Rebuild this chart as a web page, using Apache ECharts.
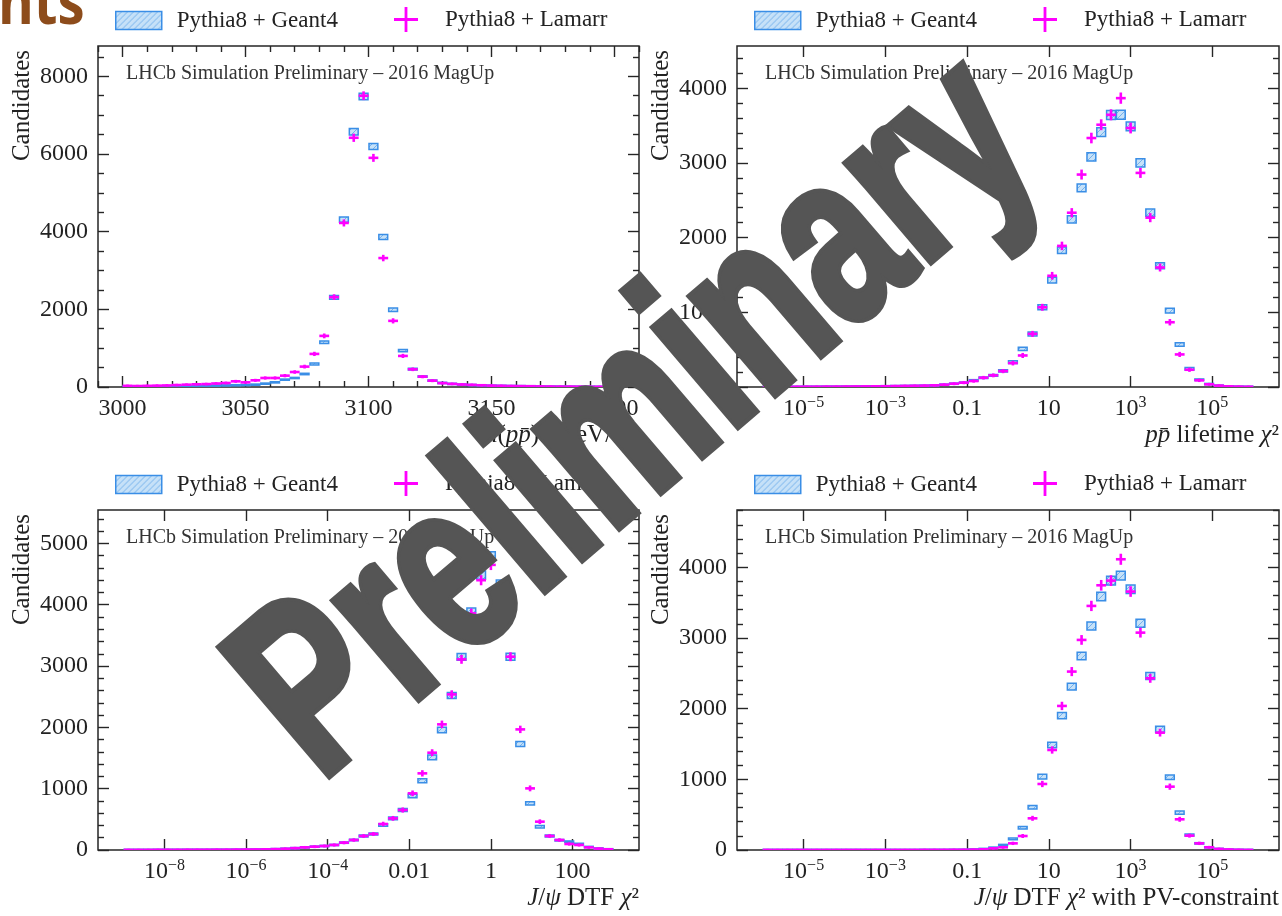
<!DOCTYPE html>
<html><head><meta charset="utf-8">
<script src="https://cdn.jsdelivr.net/npm/echarts@6/dist/echarts.min.js"></script>
<style>html,body{margin:0;padding:0;background:#fff}#c{width:1282px;height:916px}</style>
</head><body><div id="c"></div>
<script>
// ---------------- data (counts per bin, 50 equal bins per histogram) ----------------
const massBinRange = [3000, 3200];            // m(p pbar) [MeV/c^2]
const massGeant4 = [12,12,14,16,18,20,24,28,32,36, 40,45,50,60,86,120,189,232,335,594,
  1153,2310,4310,6572,7480,6194,3862,1987,938,460, 270,165,105,80,62,50,42,35,30,25,
  22,18,15,12,10,9,8,6,5,4];
const massLamarr = [30,25,30,35,40,50,60,70,75,90, 103,146,120,172,232,232,292,386,525,852,
  1316,2314,4224,6417,7500,5900,3320,1703,800,456, 267,163,100,80,65,55,45,35,30,25,
  22,20,15,12,10,10,8,6,5,5];

const lifetimeLog10Range = [-6, 6];           // log10(p pbar lifetime chi2)
const lifetimeGeant4 = [2,2,3,3,4,4,5,5,6,7, 8,9,10,12,14,16,18,22,31,44,
  58,89,124,156,215,333,511,711,1067,1431, 1831,2244,2666,3080,3413,3640,3644,3490,3000,2333,
  1622,1022,569,244,98,40,18,9,5,3];
const lifetimeLamarr = [2,2,3,3,4,4,5,5,6,7, 8,9,10,12,14,16,18,22,31,44,
  58,80,124,156,213,320,422,711,1067,1489, 1889,2333,2844,3333,3511,3644,3867,3467,2866,2267,
  1600,867,436,231,89,36,18,9,5,3];

const dtfLog10Range = [-9, 3];                // log10(J/psi DTF chi2)
const dtfGeant4 = [2,2,2,3,3,3,4,4,4,5, 5,6,7,8,10,14,20,30,43,54,
  65,82,120,163,228,261,408,516,652,880, 1130,1511,1957,2520,3150,3886,4484,4794,4337,3152,
  1728,761,380,228,160,136,100,50,25,12];
const dtfLamarr = [2,2,2,3,3,3,4,4,4,5, 5,6,7,8,10,14,20,30,43,54,
  65,82,120,163,228,261,424,516,652,924, 1250,1587,2049,2538,3109,3859,4400,4650,4185,3152,
  1967,1005,462,228,163,98,82,43,22,11];

const dtfPVLog10Range = [-6, 6];              // log10(J/psi DTF chi2 with PV constraint)
const dtfPVGeant4 = [1,1,1,1,1,1,1,1,1,1, 1,1,1,1,1,1,2,2,2,3,
  4,8,15,33,71,156,316,604,1038,1486, 1901,2311,2745,3170,3585,3811,3882,3689,3208,2462,
  1708,1028,528,212,94,38,15,7,3,1];
const dtfPVLamarr = [1,1,1,1,1,1,1,1,1,1, 1,1,1,1,1,1,2,2,2,3,
  3,5,10,24,38,94,198,448,934,1415, 2038,2524,2972,3453,3745,3811,4113,3656,3075,2429,
  1660,896,434,203,94,38,15,7,3,1];

// ---------------- ticks ----------------
const massTickValues = [3000, 3050, 3100, 3150, 3200];
const massTickLabels = ['3000', '3050', '3100', '3150', '3200'];
const wideLogTickValues = [-5, -3, -1, 1, 3, 5];
const wideLogTickLabels = ['10^-5', '10^-3', '0.1', '10', '10^3', '10^5'];
const dtfLogTickValues = [-8, -6, -4, -2, 0, 2];
const dtfLogTickLabels = ['10^-8', '10^-6', '10^-4', '0.01', '1', '100'];
const massYTicks = [0, 2000, 4000, 6000, 8000];
const lifetimeYTicks = [0, 1000, 2000, 3000, 4000];
const dtfYTicks = [0, 1000, 2000, 3000, 4000, 5000];
const dtfPVYTicks = [0, 1000, 2000, 3000, 4000];

const NAME_G4 = 'Pythia8 + Geant4';
const NAME_LM = 'Pythia8 + Lamarr';
const CAPTION = 'LHCb Simulation Preliminary \u2013 2016 MagUp';
const YNAME = 'Candidates';

// ---------------- styling ----------------
const FONT = '"Liberation Serif", "Times New Roman", "DejaVu Serif", serif';
const TXT = '#222';
const BLUE = '#3a8ee6';
const MAGENTA = '#ff00ff';

function makeHatch() {
  const c = document.createElement('canvas'); c.width = 6; c.height = 6;
  const g = c.getContext('2d');
  g.fillStyle = '#c6e1f8'; g.fillRect(0, 0, 6, 6);
  g.strokeStyle = '#74b1ec'; g.lineWidth = 1;
  g.beginPath(); g.moveTo(0, 6); g.lineTo(6, 0); g.moveTo(-1, 1); g.lineTo(1, -1); g.moveTo(5, 7); g.lineTo(7, 5); g.stroke();
  return c;
}
const hatch = { image: makeHatch(), repeat: 'repeat' };

const panels = [
  { grid: { left: 98, top: 46, width: 541, height: 341 }, x: [2990, 3210], xt: massTickValues, xl: massTickLabels, xMinor: 10,
    y: [0, 8780], yt: massYTicks, yMinor: 500, range: massBinRange, g4: massGeant4, lm: massLamarr,
    xName: '{i|m}({i|pp\u0304}) [MeV/{i|c}\u00b2]' },
  { grid: { left: 737, top: 46, width: 542, height: 341 }, x: [-6.63, 6.63], xt: wideLogTickValues, xl: wideLogTickLabels, xMinor: 0,
    y: [0, 4565], yt: lifetimeYTicks, yMinor: 200, range: lifetimeLog10Range, g4: lifetimeGeant4, lm: lifetimeLamarr,
    xName: '{i|pp\u0304} lifetime {i|\u03c7}\u00b2' },
  { grid: { left: 98, top: 510, width: 541, height: 340 }, x: [-9.63, 3.63], xt: dtfLogTickValues, xl: dtfLogTickLabels, xMinor: 0,
    y: [0, 5545], yt: dtfYTicks, yMinor: 200, range: dtfLog10Range, g4: dtfGeant4, lm: dtfLamarr,
    xName: '{i|J}/{i|\u03c8} DTF {i|\u03c7}\u00b2' },
  { grid: { left: 737, top: 510, width: 542, height: 340 }, x: [-6.63, 6.63], xt: wideLogTickValues, xl: wideLogTickLabels, xMinor: 0,
    y: [0, 4810], yt: dtfPVYTicks, yMinor: 200, range: dtfPVLog10Range, g4: dtfPVGeant4, lm: dtfPVLamarr,
    xName: '{i|J}/{i|\u03c8} DTF {i|\u03c7}\u00b2 with PV-constraint' }
];

function richTick(label) {
  const k = label.indexOf('^');
  return k < 0 ? label : label.slice(0, k) + '{s|' + label.slice(k + 1).replace('-', '\u2212') + '}';
}
function minorValues(range, step, majorStep) {
  const out = [];
  const start = Math.ceil(range[0] / step) * step;
  for (let v = start; v <= range[1] + 1e-9; v += step) {
    const r = Math.round(v / step) * step;
    if (Math.abs(r / majorStep - Math.round(r / majorStep)) > 1e-6) out.push(r);
  }
  return out;
}

const grids = [], xAxes = [], yAxes = [], series = [], legends = [], titles = [];
const tickLine = { color: '#262626', width: 1.4 };

panels.forEach((p, k) => {
  grids.push(Object.assign({ show: true, borderColor: '#262626', borderWidth: 1.5, backgroundColor: 'transparent',
    containLabel: false, outerBoundsMode: 'none' }, p.grid));
  const base = { type: 'value', gridIndex: k, axisLine: { show: false, onZero: false }, splitLine: { show: false }, silent: true };
  // x axes
  const xMain = xAxes.length;
  xAxes.push(Object.assign({}, base, {
    position: 'bottom', min: p.x[0], max: p.x[1],
    axisTick: { show: true, inside: true, length: 11, customValues: p.xt, lineStyle: tickLine },
    axisLabel: { show: true, customValues: p.xt, margin: 8, fontFamily: FONT, fontSize: 24, color: TXT, lineHeight: 28,
      formatter: (v) => { const i = p.xt.findIndex(t => Math.abs(t - v) < 1e-6); return i < 0 ? '' : richTick(p.xl[i]); },
      rich: { s: { fontSize: 16, fontFamily: FONT, color: TXT, verticalAlign: 'top', lineHeight: 16 } } },
    name: p.xName, nameLocation: 'end', nameGap: 0, nameMoveOverlap: false,
    nameTextStyle: { fontFamily: FONT, fontSize: 25, color: TXT, align: 'right', verticalAlign: 'top', padding: [36, 0, 0, 0],
      rich: { i: { fontStyle: 'italic', fontFamily: FONT, fontSize: 25, color: TXT } } }
  }));
  xAxes.push(Object.assign({}, base, {
    position: 'top', min: p.x[0], max: p.x[1],
    axisTick: { show: true, inside: true, length: 11, customValues: p.xt, lineStyle: tickLine }, axisLabel: { show: false }
  }));
  if (p.xMinor) {
    const mv = minorValues(p.x, p.xMinor, p.xt[1] - p.xt[0]);
    ['bottom', 'top'].forEach(pos => xAxes.push(Object.assign({}, base, {
      position: pos, min: p.x[0], max: p.x[1],
      axisTick: { show: true, inside: true, length: 6, customValues: mv, lineStyle: tickLine }, axisLabel: { show: false }
    })));
  }
  // y axes
  const yMain = yAxes.length;
  yAxes.push(Object.assign({}, base, {
    position: 'left', min: p.y[0], max: p.y[1],
    axisTick: { show: true, inside: true, length: 11, customValues: p.yt, lineStyle: tickLine },
    axisLabel: { show: true, customValues: p.yt, margin: 10, fontFamily: FONT, fontSize: 24, color: TXT,
      formatter: (v) => String(Math.round(v)) }
  }));
  yAxes.push(Object.assign({}, base, {
    position: 'right', min: p.y[0], max: p.y[1],
    axisTick: { show: true, inside: true, length: 11, customValues: p.yt, lineStyle: tickLine }, axisLabel: { show: false }
  }));
  const ymv = minorValues(p.y, p.yMinor, p.yt[1] - p.yt[0]);
  ['left', 'right'].forEach(pos => yAxes.push(Object.assign({}, base, {
    position: pos, min: p.y[0], max: p.y[1],
    axisTick: { show: true, inside: true, length: 6, customValues: ymv, lineStyle: tickLine }, axisLabel: { show: false }
  })));
  // axis carrying the y title, shifted left
  yAxes.push(Object.assign({}, base, {
    position: 'left', offset: 76, min: p.y[0], max: p.y[1],
    axisTick: { show: false }, axisLabel: { show: false },
    name: YNAME, nameLocation: 'end', nameRotate: 90, nameGap: -4, nameMoveOverlap: false,
    nameTextStyle: { fontFamily: FONT, fontSize: 25, color: TXT, align: 'right', verticalAlign: 'middle' }
  }));

  // histogram series
  const n = p.g4.length, w = (p.range[1] - p.range[0]) / n;
  const toData = arr => arr.map((c, i) => [p.range[0] + i * w, p.range[0] + (i + 1) * w, c]);
  series.push({
    type: 'custom', name: NAME_G4, xAxisIndex: xMain, yAxisIndex: yMain, data: toData(p.g4), clip: true, z: 3,
    encode: { x: [0, 1], y: 2 }, itemStyle: { color: BLUE },
    renderItem: (params, api) => {
      const lo = api.value(0), hi = api.value(1), c = api.value(2), err = Math.sqrt(c); // Poisson uncertainty band
      const a = api.coord([lo, c + err]), b = api.coord([hi, c - err]);
      const h = Math.max(b[1] - a[1], 1.2);
      return { type: 'rect', shape: { x: a[0] + 0.5, y: (a[1] + b[1]) / 2 - h / 2, width: b[0] - a[0] - 1, height: h },
        style: { fill: hatch, stroke: BLUE, lineWidth: 1.5 } };
    }
  });
  series.push({
    type: 'custom', name: NAME_LM, xAxisIndex: xMain, yAxisIndex: yMain, data: toData(p.lm), clip: true, z: 4,
    encode: { x: [0, 1], y: 2 }, itemStyle: { color: MAGENTA },
    renderItem: (params, api) => {
      const lo = api.value(0), hi = api.value(1), c = api.value(2), err = Math.sqrt(c);
      const a = api.coord([lo, c]), b = api.coord([hi, c]), m = (a[0] + b[0]) / 2;
      const t = api.coord([lo, c + err])[1], bt = api.coord([lo, c - err])[1];
      return { type: 'group', children: [
        { type: 'line', shape: { x1: a[0], y1: a[1], x2: b[0], y2: b[1] }, style: { stroke: MAGENTA, lineWidth: 2.6 } },
        { type: 'line', shape: { x1: m, y1: t - 1, x2: m, y2: bt + 1 }, style: { stroke: MAGENTA, lineWidth: 2.6 } }
      ] };
    }
  });

  // legends (one per panel, two entries)
  const lx = p.grid.left, ly = p.grid.top;
  const legText = { fontFamily: FONT, fontSize: 23, color: TXT };
  legends.push({ left: lx + 17, top: ly - 37, padding: 0, selectedMode: false, itemWidth: 46, itemHeight: 18,
    data: [{ name: NAME_G4, icon: 'rect' }], itemStyle: { color: hatch, borderColor: BLUE, borderWidth: 1.5 },
    textStyle: Object.assign({ padding: [0, 0, 0, 10] }, legText) });
  legends.push({ left: lx + 296, top: ly - 39, padding: 0, selectedMode: false, itemWidth: 24, itemHeight: 25,
    data: [{ name: NAME_LM, icon: 'path://M10.6,0 H13.4 V11.1 H24 V13.9 H13.4 V25 H10.6 V13.9 H0 V11.1 H10.6 Z' }],
    itemStyle: { color: MAGENTA, borderWidth: 0 },
    textStyle: Object.assign({ padding: [0, 0, 0, 22] }, legText) });

  titles.push({ text: CAPTION, left: lx + 28, top: ly + 18, padding: 0,
    textStyle: { fontFamily: FONT, fontSize: 20, fontWeight: 'normal', color: '#333' } });
});

const chart = echarts.init(document.getElementById('c'));
chart.setOption({
  animation: false,
  backgroundColor: '#ffffff',
  title: titles,
  grid: grids,
  xAxis: xAxes,
  yAxis: yAxes,
  legend: legends,
  series: series,
  graphic: [
    { type: 'text', left: -2, top: -25, z: 50, silent: true, scaleX: 0.88,
      style: { text: 'nts', font: 'bold 62px "Open Sans", "DejaVu Sans", sans-serif', fill: '#8d4c1b' } },
    { type: 'text', x: 276, y: 732, rotation: 40.5 * Math.PI / 180, scaleX: 0.72, z: 100, silent: true,
      style: { text: 'Preliminary', font: 'bold 244px "Liberation Sans", Arial, sans-serif', fill: '#555555',
        stroke: '#555555', lineWidth: 8, lineJoin: 'round', align: 'left', verticalAlign: 'middle' } }
  ]
});
</script></body></html>
